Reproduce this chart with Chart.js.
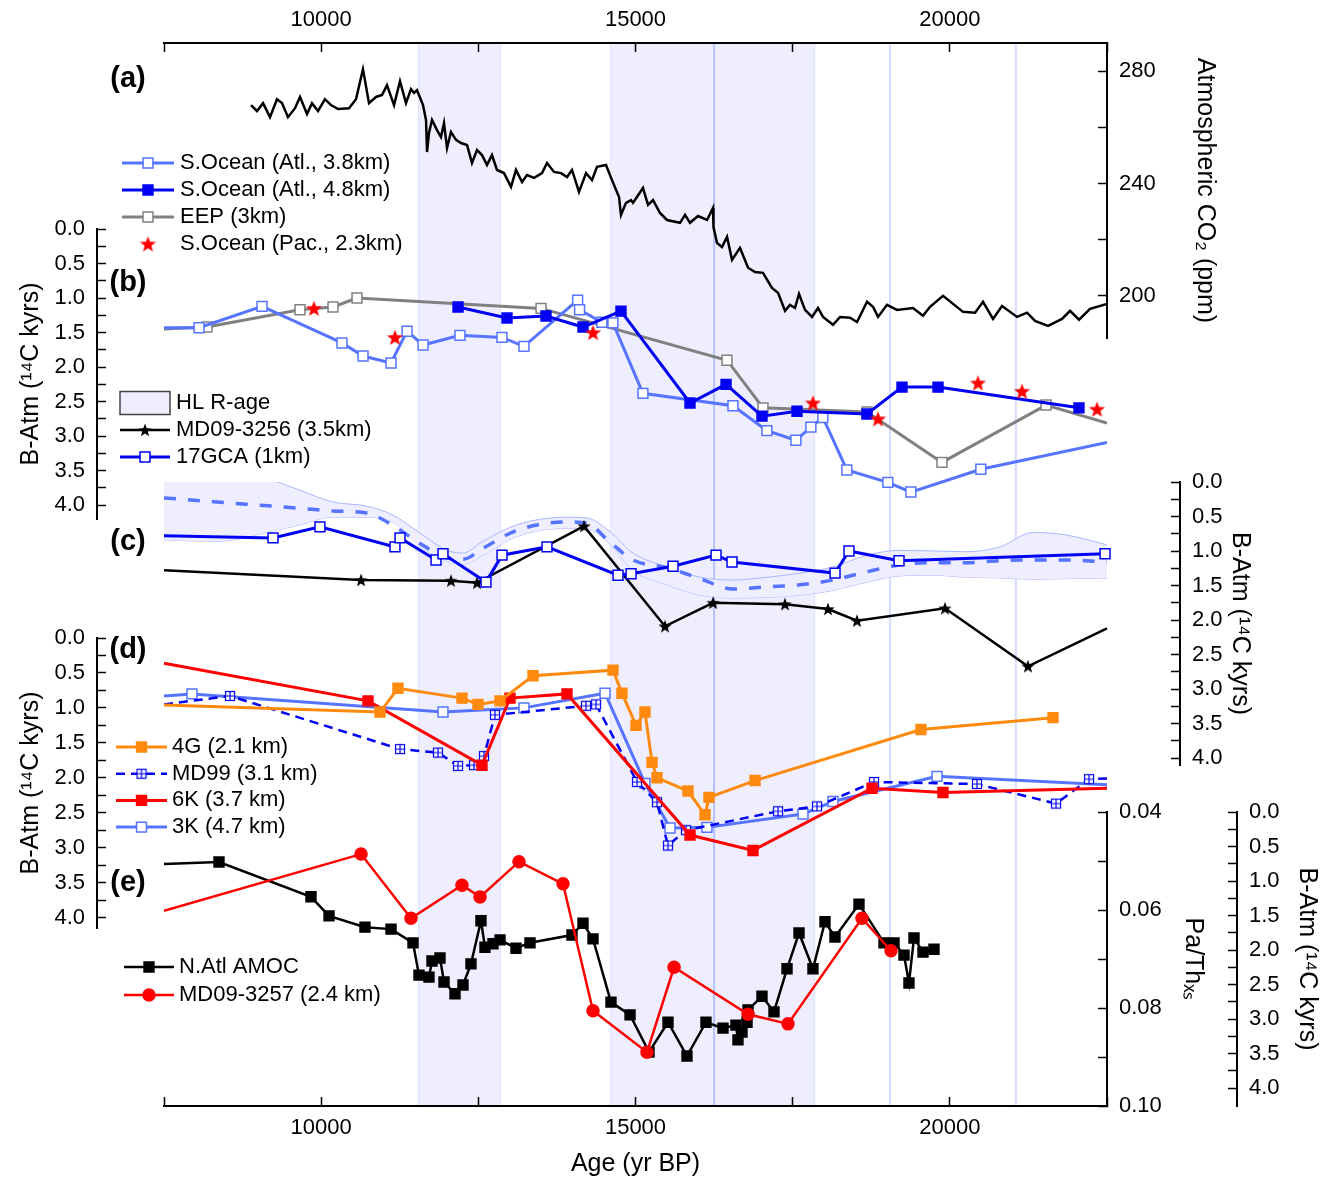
<!DOCTYPE html>
<html>
<head>
<meta charset="utf-8">
<script src="https://cdn.jsdelivr.net/npm/chart.js@4/dist/chart.umd.min.js"></script>
<style>
  html, body { margin: 0; padding: 0; background: #fff; }
  #wrap { position: relative; width: 1333px; height: 1182px; }
  #wrap canvas { position: absolute; left: 0; top: 0; }
</style>
</head>
<body>
<div id="wrap">
  <canvas id="base" width="1333" height="1182"></canvas>
  <canvas id="panelA" width="1333" height="1182"></canvas>
  <canvas id="panelB" width="1333" height="1182"></canvas>
  <canvas id="panelC" width="1333" height="1182"></canvas>
  <canvas id="panelD" width="1333" height="1182"></canvas>
  <canvas id="panelE" width="1333" height="1182"></canvas>
</div>
<script>
// ---- shared age axis ----
const X_MIN = 7500, X_MAX = 22500;
const AGE_TICKS = [7500, 10000, 12500, 15000, 17500, 20000, 22500];
const AGE_LABELS = [10000, 15000, 20000];
const HL_BANDS = [[11550, 12850], [14600, 17850]];
const HL_LINES = [16250, 19050, 21050];

// ---- (a) atmospheric CO2 ----
const co2Age = [8884, 8979, 9075, 9186, 9297, 9377, 9472, 9584, 9663, 9775, 9854, 9950, 10061, 10156, 10268,
  10443, 10554, 10665, 10761, 10872, 10968, 11047, 11159, 11254, 11349, 11429, 11477, 11524, 11588, 11620,
  11668, 11684, 11715, 11763, 11843, 11906, 11954, 12002, 12065, 12145, 12224, 12320, 12399, 12479, 12558,
  12638, 12717, 12797, 12908, 13020, 13099, 13195, 13274, 13386, 13513, 13592, 13704, 13815, 13911, 13990,
  14101, 14213, 14308, 14388, 14531, 14626, 14738, 14769, 14849, 14929, 14960, 15119, 15199, 15279, 15390,
  15501, 15708, 15788, 15867, 15994, 16138, 16233, 16240, 16297, 16376, 16456, 16535, 16662, 16790, 16901,
  17028, 17171, 17267, 17378, 17458, 17537, 17601, 17696, 17808, 17903, 17983, 18142, 18253, 18412, 18524,
  18683, 18778, 18858, 19001, 19160, 19414, 19573, 19685, 19892, 20210, 20401, 20528, 20687, 20830, 21069,
  21228, 21355, 21562, 21784, 21912, 22055, 22230, 22500];
const co2Ppm = [267.9, 265.8, 268.6, 263.6, 270.0, 268.6, 263.6, 266.8, 270.8, 264.7, 268.6, 265.8, 270.0, 267.9, 266.5,
  266.8, 270.0, 280.7, 268.6, 270.8, 271.5, 275.0, 267.9, 276.4, 268.6, 273.6, 272.2, 273.2, 269.7, 267.9,
  262.6, 251.2, 258.0, 262.6, 259.0, 256.5, 261.5, 252.6, 258.3, 255.5, 254.4, 253.7, 247.3, 251.9, 250.1,
  246.6, 250.1, 244.8, 243.7, 238.8, 244.8, 240.5, 243.0, 242.0, 243.7, 247.3, 244.1, 243.7, 242.3, 244.8,
  237.0, 243.7, 241.2, 245.9, 246.6, 241.2, 235.2, 228.8, 233.1, 234.1, 233.1, 238.4, 232.4, 234.1, 229.5,
  227.0, 226.0, 228.8, 226.0, 228.4, 227.0, 231.3, 224.5, 218.8, 217.4, 221.0, 212.8, 217.1, 210.0, 208.5,
  208.2, 202.8, 201.1, 194.7, 196.8, 195.7, 200.7, 195.0, 192.5, 195.7, 192.5, 189.7, 192.5, 192.2, 190.7,
  197.9, 196.1, 192.5, 196.8, 195.0, 195.7, 192.9, 196.1, 200.0, 194.3, 194.0, 197.9, 191.8, 196.4, 192.5,
  194.0, 191.1, 189.3, 191.8, 194.7, 191.5, 195.4, 197.1];
const CO2_TICKS = [200, 220, 240, 260, 280];
const CO2_LABELS = [200, 240, 280];

// ---- (b) ----
const sAtl38Age = [7500, 8057, 9059, 10331, 10666, 11111, 11366, 11620, 12208, 12876, 13226, 14080, 14110, 14466,
  14641, 15118, 16550, 17090, 17551, 17790, 17980, 18362, 19014, 19380, 20493, 22500];
const sAtl38 = [1.43, 1.43, 1.12, 1.65, 1.84, 1.94, 1.48, 1.68, 1.54, 1.57, 1.70, 1.03, 1.17, 1.35,
  1.36, 2.38, 2.56, 2.92, 3.06, 2.87, 2.73, 3.49, 3.67, 3.81, 3.48, 3.09];
const sAtl48Age = [12177, 12956, 13576, 14165, 14769, 15867, 16440, 17012, 17569, 18682, 19239, 19812, 22054];
const sAtl48 = [1.13, 1.29, 1.26, 1.42, 1.19, 2.52, 2.25, 2.71, 2.64, 2.68, 2.29, 2.29, 2.59];
const eepAge = [7500, 8184, 9663, 10188, 10570, 13497, 16456, 17028, 18682, 19875, 21530, 22500];
const eep = [1.45, 1.42, 1.17, 1.13, 1.00, 1.15, 1.90, 2.59, 2.65, 3.38, 2.55, 2.81];
const sPacAge = [9886, 11174, 14324, 17823, 18857, 20448, 21148, 22341];
const sPac = [1.15, 1.57, 1.50, 2.52, 2.75, 2.23, 2.35, 2.61];

// ---- (c) ----
const hlAge = [7500, 8343, 9234, 9663, 10188, 10729, 11142, 11571, 12002, 12255, 12574, 13115, 13911, 14229, 14594,
  14960, 15501, 16026, 16551, 17092, 17617, 18142, 18683, 19208, 19732, 20273, 20798, 21323, 21864, 22500];
const hlMean = [0.23, 0.29, 0.35, 0.38, 0.42, 0.45, 0.63, 0.89, 1.10, 1.12, 0.96, 0.70, 0.58, 0.60, 0.87,
  1.13, 1.24, 1.40, 1.55, 1.52, 1.49, 1.42, 1.30, 1.20, 1.17, 1.17, 1.14, 1.13, 1.13, 1.16];
const hlUpper = [-0.30, -0.20, -0.02, 0.12, 0.29, 0.35, 0.48, 0.74, 0.99, 1.03, 0.86, 0.62, 0.51, 0.52, 0.72,
  1.03, 1.23, 1.38, 1.42, 1.38, 1.32, 1.23, 1.06, 0.99, 1.00, 1.01, 0.94, 0.73, 0.77, 0.91];
const hlLower = [0.84, 0.86, 0.71, 0.62, 0.51, 0.51, 0.58, 0.93, 1.15, 1.19, 1.06, 0.79, 0.67, 0.68, 0.90,
  1.28, 1.49, 1.64, 1.68, 1.67, 1.64, 1.57, 1.45, 1.36, 1.35, 1.38, 1.39, 1.41, 1.40, 1.39];
const gca17Age = [7500, 9234, 9981, 11174, 11254, 11827, 11938, 12622, 12877, 13592, 14722, 14929, 15597, 16281,
  16535, 18174, 18396, 19192, 22469];
const gca17 = [0.78, 0.81, 0.65, 0.94, 0.81, 1.13, 1.04, 1.45, 1.06, 0.94, 1.35, 1.33, 1.22, 1.06,
  1.16, 1.32, 1.00, 1.14, 1.04];
const md3256Age = [7500, 10634, 12065, 12479, 14181, 15469, 16233, 17378, 18062, 18523, 19923, 21243, 22500];
const md3256 = [1.28, 1.42, 1.43, 1.46, 0.64, 2.09, 1.75, 1.77, 1.84, 2.01, 1.83, 2.67, 2.12];

// ---- (d) ----
const g4Age = [7500, 10936, 11222, 12240, 12495, 12845, 13370, 14642, 14785, 15008, 15151, 15263, 15342, 15835,
  16106, 16169, 16901, 19541, 21641];
const g4 = [0.96, 1.06, 0.72, 0.86, 0.95, 0.90, 0.54, 0.46, 0.79, 1.25, 1.06, 1.78, 2.00, 2.19,
  2.53, 2.28, 2.04, 1.31, 1.14];
const md99Age = [7500, 8550, 11254, 11858, 12177, 12431, 12590, 12765, 14212, 14372, 15024, 15342, 15517, 15803,
  17267, 17887, 18794, 20432, 21689, 22214, 22500];
const md99 = [0.95, 0.83, 1.59, 1.64, 1.83, 1.82, 1.69, 1.10, 0.97, 0.95, 2.06, 2.35, 2.97, 2.75,
  2.48, 2.41, 2.06, 2.09, 2.37, 2.02, 2.01];
const k6Age = [7500, 10745, 12558, 13004, 13910, 15867, 16869, 18762, 19891, 22500];
const k6 = [0.36, 0.90, 1.82, 0.86, 0.80, 2.82, 3.04, 2.15, 2.21, 2.15];
const k3Age = [7500, 7945, 11938, 13226, 14515, 15151, 15549, 16137, 17664, 18141, 19796, 22500];
const k3 = [0.83, 0.80, 1.06, 1.00, 0.79, 2.08, 2.72, 2.71, 2.52, 2.34, 1.98, 2.10];

// ---- (e) ----
const amocAge = [7500, 8375, 9838, 10125, 10697, 11111, 11461, 11556, 11715, 11763, 11890, 11954, 12129, 12256,
  12383, 12542, 12606, 12733, 12845, 13099, 13322, 13990, 14165, 14324, 14610, 14913, 15215, 15517, 15819,
  16121, 16392, 16598, 16630, 16694, 16774, 16790, 17012, 17203, 17410, 17601, 17823, 18014, 18173, 18555,
  18953, 19112, 19271, 19350, 19430, 19573, 19748];
const amoc = [0.0506, 0.0502, 0.0573, 0.0612, 0.0635, 0.0639, 0.0667, 0.0733, 0.0737, 0.0704, 0.0698, 0.0747, 0.0771, 0.0753,
  0.0710, 0.0622, 0.0676, 0.0669, 0.0661, 0.0678, 0.0667, 0.0651, 0.0627, 0.0659, 0.0788, 0.0814, 0.0890, 0.0829, 0.0898,
  0.0829, 0.0841, 0.0835, 0.0865, 0.0849, 0.0829, 0.0804, 0.0776, 0.0808, 0.0720, 0.0647, 0.0720, 0.0624, 0.0655, 0.0588,
  0.0667, 0.0667, 0.0692, 0.0749, 0.0657, 0.0686, 0.0680];
const md3257Age = [7500, 10634, 11429, 12240, 12527, 13147, 13847, 14324, 15183, 15613, 16790, 17426, 18603, 19064];
const md3257 = [1.43, 0.61, 1.54, 1.06, 1.23, 0.72, 1.04, 2.88, 3.48, 2.25, 2.93, 3.07, 1.54, 2.01];

const BATM_TICKS = [0, 0.25, 0.5, 0.75, 1, 1.25, 1.5, 1.75, 2, 2.25, 2.5, 2.75, 3, 3.25, 3.5, 3.75, 4];
const BATM_LABELS = [0, 0.5, 1, 1.5, 2, 2.5, 3, 3.5, 4];
const PATH_TICKS = [0.04, 0.05, 0.06, 0.07, 0.08, 0.09, 0.10];
const PATH_LABELS = [0.04, 0.06, 0.08, 0.10];

// ---- layout ----
const PAGE = { w: 1333, h: 1182 };
const FRAME = { left: 164, right: 1107, top: 43, bottom: 1106 };
const YR_PER_PX = (X_MAX - X_MIN) / (FRAME.right - FRAME.left);
const FONT = "'Liberation Sans', Arial, sans-serif";
const BATM_TITLE = 'B-Atm (\u00B9\u2074C kyrs)';

const LBLUE = '#5674ff', DBLUE = '#0000f2', GREY = '#808080', RED = '#ff0000', ORANGE = '#ff8a0e';
const SHADE = '#eeeeff';

Chart.defaults.font.family = FONT;
Chart.defaults.font.size = 22;
Chart.defaults.color = '#000';
Chart.defaults.animation = false;
Chart.defaults.responsive = false;
Chart.defaults.plugins.legend.display = false;
Chart.defaults.plugins.tooltip.enabled = false;

function starMark(color, r) {
  const c = document.createElement('canvas');
  const s = Math.ceil(r * 2 + 2);
  c.width = c.height = s;
  const g = c.getContext('2d');
  g.fillStyle = color;
  g.beginPath();
  for (let i = 0; i < 10; i++) {
    const a = -Math.PI / 2 + i * Math.PI / 5;
    const rr = i % 2 ? r * 0.42 : r;
    g.lineTo(s / 2 + rr * Math.cos(a), s / 2 + rr * Math.sin(a) + r * 0.08);
  }
  g.closePath();
  g.fill();
  return c;
}

function gridBoxMark(color, side) {
  const c = document.createElement('canvas');
  c.width = c.height = side + 2;
  const g = c.getContext('2d');
  g.fillStyle = '#fff';
  g.fillRect(1, 1, side, side);
  g.strokeStyle = color;
  g.lineWidth = 1.2;
  g.strokeRect(1.5, 1.5, side - 1, side - 1);
  g.beginPath();
  g.moveTo(1 + side / 2, 1.5); g.lineTo(1 + side / 2, side + 0.5);
  g.moveTo(1.5, 1 + side / 2); g.lineTo(side + 0.5, 1 + side / 2);
  g.stroke();
  return c;
}

// no marker where a line runs out of the frame
const inside = r => c => (c.raw && c.raw.x > X_MIN && c.raw.x < X_MAX) ? r : 0;
const pts = (xs, ys) => xs.map((x, i) => ({ x, y: ys[i] }));

function line(label, xs, ys, yAxisID, st) {
  return Object.assign({
    label, data: pts(xs, ys), yAxisID, xAxisID: 'x',
    borderColor: st.color, backgroundColor: st.color, borderWidth: 3,
    pointStyle: 'rect', pointRadius: inside(7), keyRadius: 7,
    pointBackgroundColor: st.color, pointBorderColor: st.color, pointBorderWidth: 1.5,
    tension: 0, fill: false
  }, st);
}

function ageAxis(left, right) {
  return {
    type: 'linear', display: false,
    min: X_MIN - (FRAME.left - left) * YR_PER_PX,
    max: X_MAX + (right - FRAME.right) * YR_PER_PX
  };
}

function valueAxis(o) {
  return {
    type: 'linear', position: o.position, min: o.min, max: o.max, reverse: !!o.reverse, weight: o.weight || 0,
    afterBuildTicks: s => { s.ticks = o.ticks.map(v => ({ value: v })); },
    afterFit: s => { s.width = o.width; s.paddingTop = 0; s.paddingBottom = 0; },
    border: { display: true, color: '#000', width: 2 },
    grid: { drawOnChartArea: false, tickLength: -9, tickColor: '#000', tickWidth: 1.5 },
    ticks: {
      autoSkip: false, padding: 21, color: '#000',
      callback: v => o.labels.some(m => Math.abs(m - v) < 1e-9) ? v.toFixed(o.digits) : ''
    },
    title: { display: true, text: o.title, color: '#000', font: { size: 25 }, padding: { top: o.titlePad, bottom: 0 } }
  };
}

const seriesKey = {
  id: 'seriesKey',
  afterDraw(chart, args, o) {
    if (!o || !o.items) return;
    const ctx = chart.ctx;
    ctx.save();
    o.items.forEach((idx, i) => {
      const ds = chart.data.datasets[idx];
      const y = o.y + i * o.gap;
      const x0 = o.x, x1 = o.x + o.len, xm = (x0 + x1) / 2;
      if (ds.keyBox) {
        ctx.fillStyle = SHADE;
        ctx.fillRect(x0, y - 11.5, o.len, 23);
        ctx.strokeStyle = '#444';
        ctx.lineWidth = 1.5;
        ctx.strokeRect(x0, y - 11.5, o.len, 23);
      } else {
        if (ds.showLine !== false) {
          ctx.strokeStyle = ds.borderColor;
          ctx.lineWidth = ds.borderWidth;
          ctx.setLineDash(ds.borderDash || []);
          ctx.beginPath(); ctx.moveTo(x0, y); ctx.lineTo(x1, y); ctx.stroke();
          ctx.setLineDash([]);
        }
        const ps = ds.pointStyle, r = ds.keyRadius;
        if (ps instanceof HTMLCanvasElement) {
          ctx.drawImage(ps, xm - ps.width / 2, y - ps.height / 2);
        } else {
          ctx.fillStyle = ds.pointBackgroundColor;
          ctx.strokeStyle = ds.pointBorderColor;
          ctx.lineWidth = ds.pointBorderWidth;
          ctx.beginPath();
          if (ps === 'circle') ctx.arc(xm, y, r, 0, Math.PI * 2);
          else { const h = r * Math.SQRT1_2; ctx.rect(xm - h, y - h, 2 * h, 2 * h); }
          ctx.fill(); ctx.stroke();
        }
      }
      ctx.fillStyle = '#000';
      ctx.font = '22px ' + FONT;
      ctx.textBaseline = 'middle';
      ctx.textAlign = 'left';
      ctx.fillText(ds.label, x1 + o.textGap, y);
    });
    ctx.restore();
  }
};

function panelChart(id, area, scales, datasets, key) {
  let lw = 0, rw = 0;
  Object.values(scales).forEach(s => {
    if (s.position === 'left') lw += s._w;
    if (s.position === 'right') rw += s._w;
  });
  return new Chart(document.getElementById(id), {
    type: 'line',
    data: { datasets },
    options: {
      layout: { padding: { left: area.left - lw, right: PAGE.w - area.right - rw, top: area.top, bottom: PAGE.h - area.bottom } },
      scales,
      plugins: { seriesKey: key || {} }
    },
    plugins: [seriesKey]
  });
}

function withWidth(axis, w) { axis._w = w; return axis; }

// ---- base frame: age axes, HL shading, panel tags ----
const hlShade = {
  id: 'hlShade',
  beforeDraw(chart) {
    const { ctx, chartArea: a, scales: { x } } = chart;
    ctx.save();
    HL_BANDS.forEach(([b0, b1]) => {
      const p0 = x.getPixelForValue(b0), p1 = x.getPixelForValue(b1);
      ctx.fillStyle = SHADE;
      ctx.fillRect(p0, a.top, p1 - p0, a.bottom - a.top);
      ctx.strokeStyle = '#dde2ff';
      ctx.lineWidth = 1;
      ctx.strokeRect(p0, a.top, p1 - p0, a.bottom - a.top);
    });
    HL_LINES.forEach((v, i) => {
      const p = x.getPixelForValue(v);
      ctx.strokeStyle = i === 0 ? '#b6c2ff' : '#d6ddff';
      ctx.lineWidth = 2;
      ctx.beginPath(); ctx.moveTo(p, a.top); ctx.lineTo(p, a.bottom); ctx.stroke();
    });
    ctx.restore();
  }
};

const panelTags = {
  id: 'panelTags',
  afterDraw(chart, args, o) {
    const ctx = chart.ctx;
    ctx.save();
    ctx.font = 'bold 29px ' + FONT;
    ctx.fillStyle = '#000';
    ctx.textAlign = 'center';
    ctx.textBaseline = 'middle';
    o.tags.forEach(t => ctx.fillText(t.text, t.x, t.y));
    ctx.restore();
  }
};

function ageTicks(position, height, pad) {
  return {
    type: 'linear', position, min: X_MIN, max: X_MAX,
    afterBuildTicks: s => { s.ticks = AGE_TICKS.map(v => ({ value: v })); },
    afterFit: s => { s.height = height; s.paddingLeft = 0; s.paddingRight = 0; },
    border: { display: true, color: '#000', width: 2 },
    grid: { drawOnChartArea: false, tickLength: -9, tickColor: '#000', tickWidth: 1.5 },
    ticks: { autoSkip: false, maxRotation: 0, padding: pad, color: '#000',
      callback: v => AGE_LABELS.includes(v) ? String(v) : '' }
  };
}

const xBottom = ageTicks('bottom', PAGE.h - FRAME.bottom, 18);
xBottom.title = { display: true, text: 'Age (yr BP)', color: '#000', font: { size: 25 }, padding: { top: 0, bottom: 3 } };

new Chart(document.getElementById('base'), {
  type: 'line',
  data: { datasets: [] },
  options: {
    layout: { padding: { left: FRAME.left, right: PAGE.w - FRAME.right, top: 0, bottom: 0 } },
    scales: {
      x: xBottom,
      xTop: ageTicks('top', FRAME.top, 19),
      y: { display: false, min: 0, max: 1 }
    },
    plugins: {
      panelTags: { tags: [
        { text: '(a)', x: 128, y: 79 },
        { text: '(b)', x: 128, y: 283 },
        { text: '(c)', x: 128, y: 542 },
        { text: '(d)', x: 128, y: 650 },
        { text: '(e)', x: 128, y: 883 }
      ] }
    }
  },
  plugins: [hlShade, panelTags]
});

// ---- (a) ----
panelChart('panelA', { left: 164, right: 1107, top: 43, bottom: 338 }, {
  x: ageAxis(164, 1107),
  co2: withWidth(valueAxis({ position: 'right', min: 185, max: 290, ticks: CO2_TICKS, labels: CO2_LABELS, digits: 0,
    width: 226, title: 'Atmospheric CO\u2082 (ppm)', titlePad: 113 }), 226)
}, [
  line('Atmospheric CO2', co2Age, co2Ppm, 'co2', { color: '#000', borderWidth: 2.5, pointRadius: 0 })
]);

// ---- (b) ----
const starRed = starMark(RED, 8.5);
panelChart('panelB', { left: 97, right: 1107, top: 229, bottom: 519 }, {
  x: ageAxis(97, 1107),
  b: withWidth(valueAxis({ position: 'left', min: 0, max: 4.2, reverse: true, ticks: BATM_TICKS, labels: BATM_LABELS,
    digits: 1, width: 97, title: BATM_TITLE, titlePad: 16 }), 97)
}, [
  line('S.Ocean (Atl., 3.8km)', sAtl38Age, sAtl38, 'b', { color: LBLUE, pointBackgroundColor: '#fff', order: 2 }),
  line('S.Ocean (Atl., 4.8km)', sAtl48Age, sAtl48, 'b', { color: DBLUE, order: 1 }),
  line('EEP (3km)', eepAge, eep, 'b', { color: GREY, pointBackgroundColor: '#fff', order: 3 }),
  line('S.Ocean (Pac., 2.3km)', sPacAge, sPac, 'b', { color: RED, showLine: false, pointStyle: starRed, pointRadius: 8, order: 0 })
], { items: [0, 1, 2, 3], x: 122, y: 163, gap: 27, len: 52, textGap: 6 });

// ---- (c) ----
const starBlack = starMark('#000', 7);
panelChart('panelC', { left: 164, right: 1180, top: 482, bottom: 765 }, {
  x: ageAxis(164, 1180),
  c: withWidth(valueAxis({ position: 'right', min: 0, max: 4.1, reverse: true, ticks: BATM_TICKS, labels: BATM_LABELS,
    digits: 1, width: 153, title: BATM_TITLE, titlePad: 78 }), 153)
}, [
  line('HL R-age', hlAge, hlUpper, 'c', { color: '#aab6ff', borderWidth: 1, pointRadius: 0, backgroundColor: SHADE,
    fill: '+1', cubicInterpolationMode: 'monotone', keyBox: true, order: 5 }),
  line('HL lower', hlAge, hlLower, 'c', { color: '#aab6ff', borderWidth: 1, pointRadius: 0, cubicInterpolationMode: 'monotone', order: 6 }),
  line('HL mean', hlAge, hlMean, 'c', { color: LBLUE, borderWidth: 3.5, borderDash: [12, 12], pointRadius: 0,
    cubicInterpolationMode: 'monotone', order: 4 }),
  line('MD09-3256 (3.5km)', md3256Age, md3256, 'c', { color: '#000', borderWidth: 2.5, pointStyle: starBlack, pointRadius: inside(7), order: 2 }),
  line('17GCA (1km)', gca17Age, gca17, 'c', { color: DBLUE, pointBackgroundColor: '#fff', order: 1 })
], { items: [0, 3, 4], x: 120, y: 403, gap: 27, len: 50, textGap: 6 });

// ---- (d) ----
const gridBox = gridBoxMark(DBLUE, 10);
panelChart('panelD', { left: 97, right: 1107, top: 638, bottom: 928 }, {
  x: ageAxis(97, 1107),
  d: withWidth(valueAxis({ position: 'left', min: 0, max: 4.15, reverse: true, ticks: BATM_TICKS, labels: BATM_LABELS,
    digits: 1, width: 97, title: BATM_TITLE, titlePad: 16 }), 97)
}, [
  line('4G (2.1 km)', g4Age, g4, 'd', { color: ORANGE, order: 0 }),
  line('MD99 (3.1 km)', md99Age, md99, 'd', { color: DBLUE, borderWidth: 2.5, borderDash: [9, 6], pointStyle: gridBox, order: 2 }),
  line('6K (3.7 km)', k6Age, k6, 'd', { color: RED, order: 1 }),
  line('3K (4.7 km)', k3Age, k3, 'd', { color: LBLUE, pointBackgroundColor: '#fff', order: 3 })
], { items: [0, 1, 2, 3], x: 116, y: 747, gap: 26.7, len: 51, textGap: 5 });

// ---- (e) ----
panelChart('panelE', { left: 164, right: 1107, top: 812, bottom: 1106 }, {
  x: ageAxis(164, 1107),
  pa: withWidth(valueAxis({ position: 'right', min: 0.04, max: 0.10, reverse: true, ticks: PATH_TICKS, labels: PATH_LABELS,
    digits: 2, width: 130, title: 'Pa/Th\u2093\u209B', titlePad: 29, weight: 0 }), 130),
  e: withWidth(valueAxis({ position: 'right', min: 0, max: 4.26, reverse: true, ticks: BATM_TICKS, labels: BATM_LABELS,
    digits: 1, width: 96, title: BATM_TITLE, titlePad: 11, weight: 1 }), 96)
}, [
  line('N.Atl AMOC', amocAge, amoc, 'pa', { color: '#000', borderWidth: 2.5, order: 1 }),
  line('MD09-3257 (2.4 km)', md3257Age, md3257, 'e', { color: RED, borderWidth: 2.5, pointStyle: 'circle', pointRadius: inside(6),
    keyRadius: 6, order: 0 })
], { items: [0, 1], x: 124, y: 967, gap: 28, len: 50, textGap: 5 });
</script>
</body>
</html>
